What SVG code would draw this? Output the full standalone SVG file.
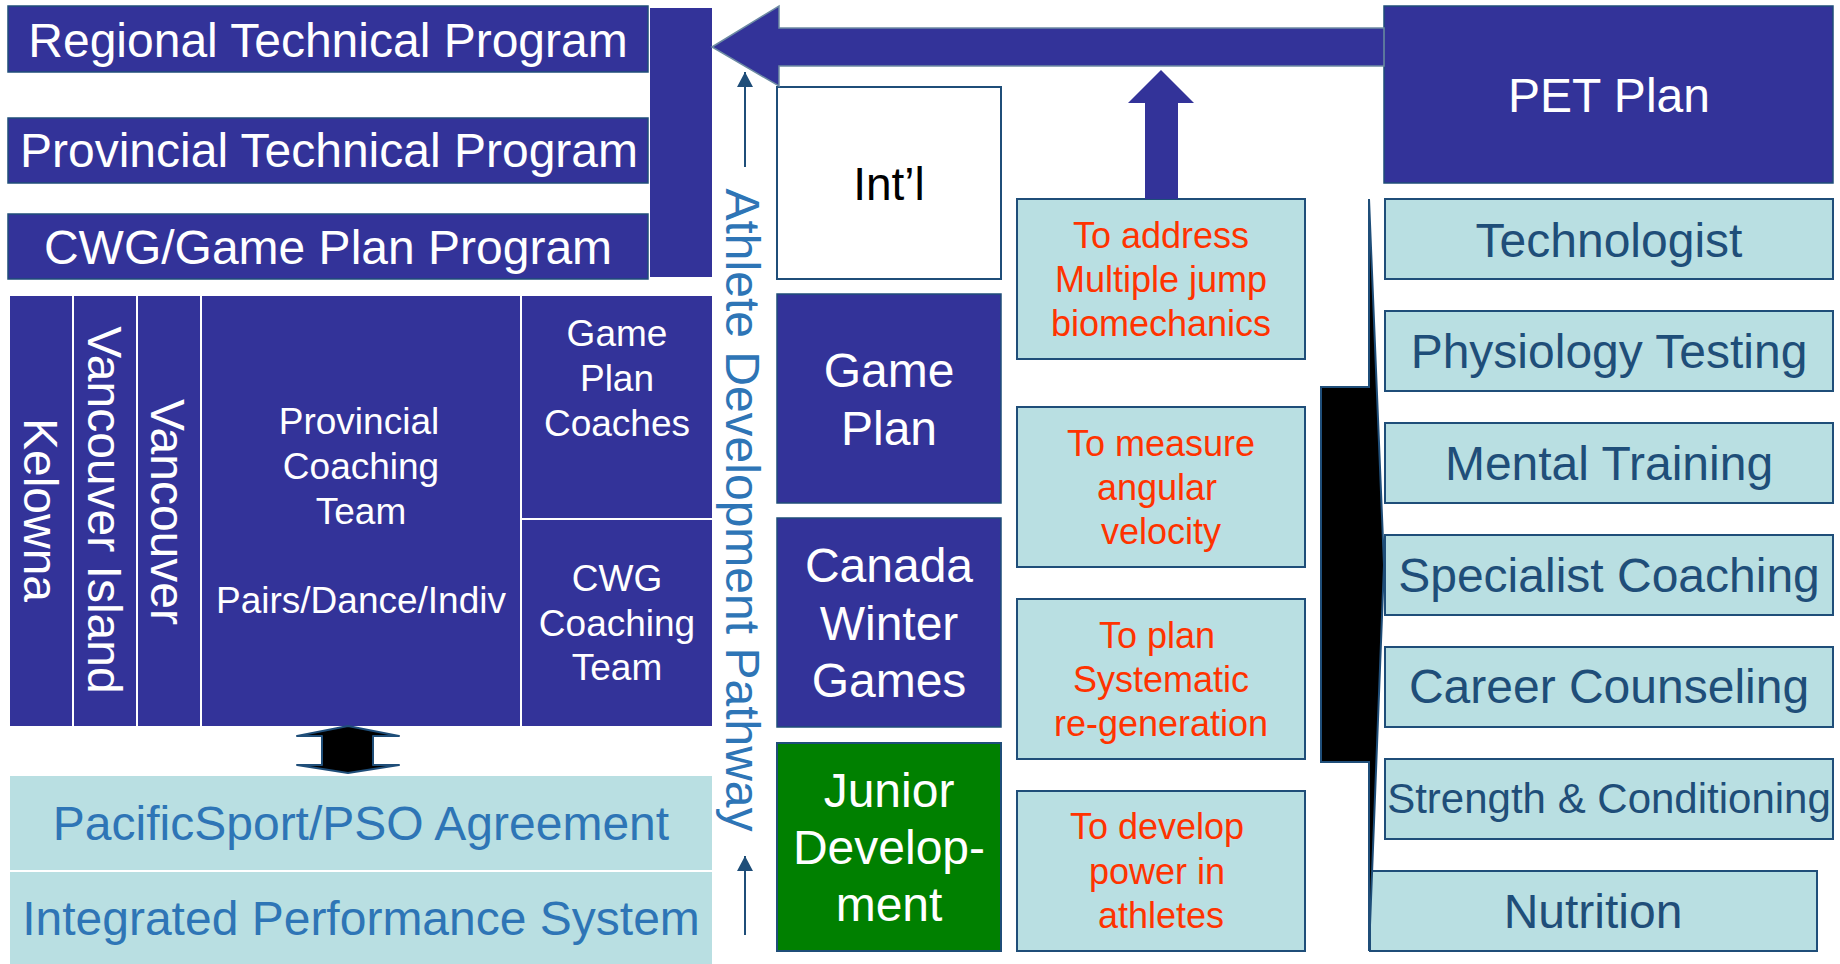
<svg xmlns="http://www.w3.org/2000/svg" width="1840" height="964" viewBox="0 0 1840 964">
<defs>
<style>
text{font-family:"Liberation Sans",Arial,sans-serif;}
.dk{fill:#333399;stroke:#1f4e79;stroke-width:1.5;}
.dkn{fill:#333399;}
.lt{fill:#b9dfe2;stroke:#1f4e79;stroke-width:2;}
.ltn{fill:#b9dfe2;}
.w48{fill:#ffffff;font-size:48px;text-anchor:middle;}
.w37{fill:#ffffff;font-size:37px;text-anchor:middle;}
.r36{fill:#ff3300;font-size:36px;text-anchor:middle;}
.b48{fill:#1f4e79;font-size:48px;text-anchor:middle;}
.c48{fill:#2e75b6;font-size:48px;text-anchor:middle;}
.thin{stroke:#1f4e79;stroke-width:2;fill:none;}
</style>
<marker id="ah" viewBox="0 0 15 16" refX="15" refY="8" markerWidth="15" markerHeight="16" markerUnits="userSpaceOnUse" orient="auto">
<path d="M0 0 L15 8 L0 16 Z" fill="#1f4e79"/>
</marker>
</defs>
<rect x="0" y="0" width="1840" height="964" fill="#ffffff"/>

<g id="regional"><rect class="dk" x="8" y="6" width="640" height="66"/><text class="w48" x="328" y="57">Regional Technical Program</text></g>
<g id="provincial"><rect class="dk" x="8" y="118" width="640" height="65"/><text class="w48" x="329" y="167">Provincial Technical Program</text></g>
<g id="cwg-program"><rect class="dk" x="8" y="214" width="640" height="65"/><text class="w48" x="328" y="264">CWG/Game Plan Program</text></g>
<g id="bar"><rect class="dkn" x="650" y="8" width="62" height="269"/></g>

<g id="pet-plan"><rect class="dk" x="1384" y="6" width="449" height="177"/><text class="w48" x="1609" y="112">PET Plan</text></g>

<g id="intl"><rect x="777" y="87" width="224" height="192" fill="#ffffff" stroke="#1f4e79" stroke-width="2"/><text x="889" y="200" fill="#000000" font-size="46" text-anchor="middle">Int’l</text></g>
<g id="game-plan"><rect class="dk" x="777" y="294" width="224" height="209"/><text class="w48" x="889" y="387">Game</text><text class="w48" x="889" y="445">Plan</text></g>
<g id="canada-winter-games"><rect class="dk" x="777" y="518" width="224" height="209"/><text class="w48" x="889" y="582">Canada</text><text class="w48" x="889" y="640">Winter</text><text class="w48" x="889" y="697">Games</text></g>
<g id="junior"><rect x="777" y="743" width="224" height="208" fill="#008000" stroke="#1f4e79" stroke-width="2"/><text class="w48" x="889" y="807">Junior</text><text class="w48" x="889" y="864">Develop-</text><text class="w48" x="889" y="921">ment</text></g>

<g id="pathway-label"><text class="c48" transform="translate(726 510) rotate(90)" x="0" y="0">Athlete Development Pathway</text></g>

<g id="kelowna"><rect class="dkn" x="10" y="296" width="62" height="430"/><text class="w48" transform="translate(24 510) rotate(90)">Kelowna</text></g>
<g id="vancouver-island"><rect class="dkn" x="74" y="296" width="62" height="430"/><text class="w48" transform="translate(88 510) rotate(90)">Vancouver Island</text></g>
<g id="vancouver"><rect class="dkn" x="138" y="296" width="62" height="430"/><text class="w48" transform="translate(151 512) rotate(90)">Vancouver</text></g>
<g id="provincial-coaching"><rect class="dkn" x="202" y="296" width="318" height="430"/><text class="w37" x="359" y="434">Provincial</text><text class="w37" x="361" y="479">Coaching</text><text class="w37" x="361" y="524">Team</text><text class="w37" x="361" y="613">Pairs/Dance/Indiv</text></g>
<g id="game-plan-coaches"><rect class="dkn" x="522" y="296" width="190" height="222"/><text class="w37" x="617" y="346">Game</text><text class="w37" x="617" y="391">Plan</text><text class="w37" x="617" y="436">Coaches</text></g>
<g id="cwg-coaching"><rect class="dkn" x="522" y="520" width="190" height="206"/><text class="w37" x="617" y="591">CWG</text><text class="w37" x="617" y="636">Coaching</text><text class="w37" x="617" y="680">Team</text></g>

<g id="pacificsport"><rect class="ltn" x="10" y="776" width="702" height="94"/><text class="c48" x="361" y="840">PacificSport/PSO Agreement</text></g>
<g id="ips"><rect class="ltn" x="10" y="872" width="702" height="92"/><text class="c48" x="361" y="935">Integrated Performance System</text></g>

<g id="goal-jump"><rect class="lt" x="1017" y="199" width="288" height="160"/><text class="r36" x="1161" y="248">To address</text><text class="r36" x="1161" y="292">Multiple jump</text><text class="r36" x="1161" y="336">biomechanics</text></g>
<g id="goal-angular"><rect class="lt" x="1017" y="407" width="288" height="160"/><text class="r36" x="1161" y="456">To measure</text><text class="r36" x="1157" y="500">angular</text><text class="r36" x="1161" y="544">velocity</text></g>
<g id="goal-regen"><rect class="lt" x="1017" y="599" width="288" height="160"/><text class="r36" x="1157" y="648">To plan</text><text class="r36" x="1161" y="692">Systematic</text><text class="r36" x="1161" y="736">re-generation</text></g>
<g id="goal-power"><rect class="lt" x="1017" y="791" width="288" height="160"/><text class="r36" x="1157" y="839">To develop</text><text class="r36" x="1157" y="884">power in</text><text class="r36" x="1161" y="928">athletes</text></g>

<g id="technologist"><rect class="lt" x="1385" y="199" width="448" height="80"/><text class="b48" x="1609" y="257">Technologist</text></g>
<g id="physiology"><rect class="lt" x="1385" y="311" width="448" height="80"/><text class="b48" x="1609" y="368">Physiology Testing</text></g>
<g id="mental"><rect class="lt" x="1385" y="423" width="448" height="80"/><text class="b48" x="1609" y="480">Mental Training</text></g>
<g id="specialist"><rect class="lt" x="1385" y="535" width="448" height="80"/><text class="b48" x="1609" y="592">Specialist Coaching</text></g>
<g id="career"><rect class="lt" x="1385" y="647" width="448" height="80"/><text class="b48" x="1609" y="703">Career Counseling</text></g>
<g id="strength"><rect class="lt" x="1385" y="759" width="448" height="80"/><text class="b48" x="1609" y="813" style="font-size:42px">Strength &amp; Conditioning</text></g>
<g id="nutrition"><rect class="lt" x="1370" y="871" width="447" height="80"/><text class="b48" x="1593" y="928">Nutrition</text></g>

<g id="bracket"><polygon points="1369,199 1384,565 1369,951 1369,762 1321,762 1321,387 1369,387" fill="#000000" stroke="#1f4e79" stroke-width="2" stroke-linejoin="miter"/></g>

<g id="connectors">
<polygon id="pet-arrow" points="712,47 779,6 779,28 1384,28 1384,66 779,66 779,86" fill="#333399" stroke="#6d8ba3" stroke-width="1.5"/>
<polygon id="goal-arrow" points="1161,70 1194,103 1178,103 1178,199 1145,199 1145,103 1128,103" fill="#333399"/>
<polygon id="double-arrow" points="348,726 399,736 373,736 373,765 399,765 348,773 297,765 322,765 322,736 297,736" fill="#000000" stroke="#1f4e79" stroke-width="2" stroke-linejoin="round"/>
<line class="thin" x1="745" y1="167" x2="745" y2="72" marker-end="url(#ah)"/>
<line class="thin" x1="745" y1="935" x2="745" y2="856" marker-end="url(#ah)"/>
</g>
</svg>
